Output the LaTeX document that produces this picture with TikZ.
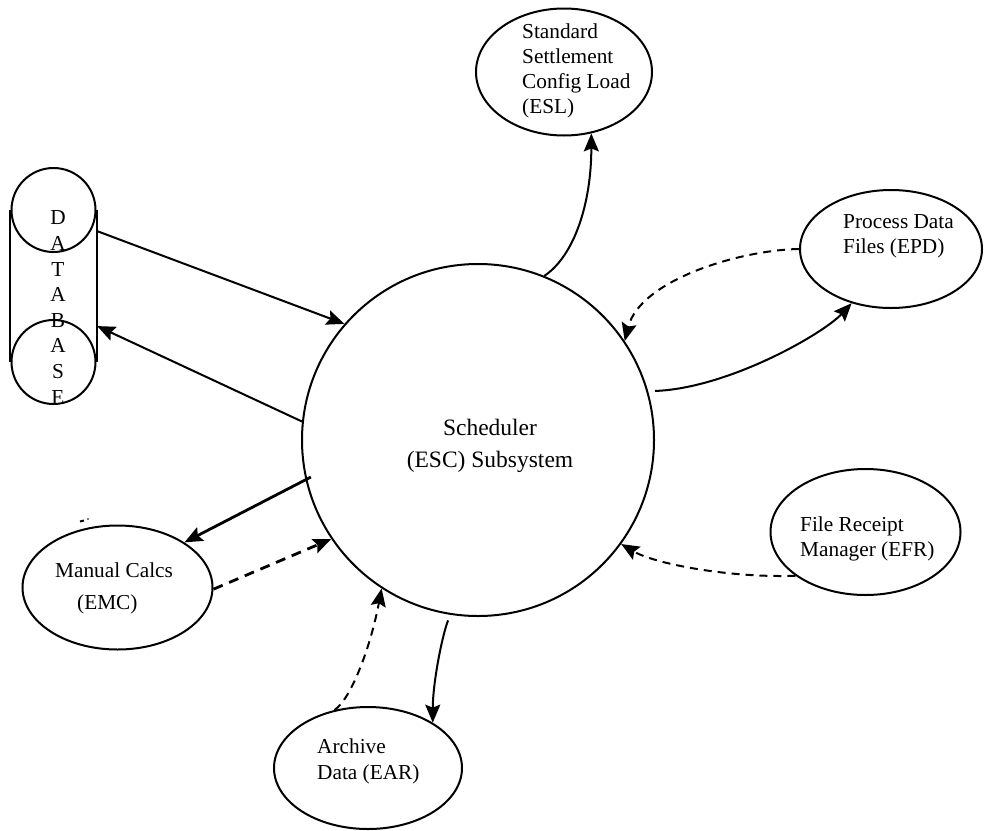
\documentclass[tikz,border=0pt]{standalone}
\usepackage{fontspec}
\setmainfont{Liberation Serif}
\usetikzlibrary{shapes.geometric,arrows.meta,calc}
\begin{document}
\begin{tikzpicture}[x=1pt,y=-1pt,
  outline/.style={draw=black,line width=2pt,inner sep=0pt},
  proc/.style={outline,ellipse},
  lbl/.style={inner sep=0pt,align=left,font=\fontsize{21.3}{25}\selectfont},
  flow/.style={-{Stealth[length=18pt,width=15pt,inset=3pt]},line width=2pt},
  dflow/.style={flow,dash pattern=on 8pt off 6pt},
  heavy/.style={line width=2.8pt},
]
\useasboundingbox (0,0) rectangle (984,830);

% central scheduler process
\node[outline,circle,minimum size=352pt] (esc) at (478,440) {};
\node[lbl,align=center,anchor=base,font=\fontsize{23.5}{32}\selectfont] (esctext) at (490,467)
  {Scheduler\\(ESC) Subsystem};

% surrounding processes (label anchors sit on the last baseline)
\node[proc,minimum width=176pt,minimum height=127pt] (esl) at (564,72) {};
\node[lbl,anchor=base west] (esltext) at (522,113)
  {Standard\\Settlement\\Config Load\\(ESL)};

\node[proc,minimum width=182pt,minimum height=118pt] (epd) at (891,249) {};
\node[lbl,anchor=base west] (epdtext) at (843,253) {Process Data\\Files (EPD)};

\node[proc,minimum width=190pt,minimum height=126pt] (efr) at (865.5,532) {};
\node[lbl,anchor=base west] (efrtext) at (800,556) {File Receipt\\Manager (EFR)};

\node[proc,minimum width=188pt,minimum height=122pt] (ear) at (368,768) {};
\node[lbl,anchor=base west,font=\fontsize{21.3}{26}\selectfont] (eartext) at (317,779)
  {Archive\\Data (EAR)};

\node[proc,minimum width=190pt,minimum height=124pt] (emc) at (117.5,587.5) {};
\node[lbl,anchor=base west,font=\fontsize{21.3}{32}\selectfont] (emctext) at (55,609)
  {Manual Calcs\\\hspace*{22pt}(EMC)};

% database store: two end circles joined by side lines
\node[inner sep=0pt,minimum width=87pt,minimum height=152pt] (db) at (53.5,286) {};
\node[outline,circle,minimum size=84pt] (dbtop) at (53.5,210) {};
\node[outline,circle,minimum size=84pt] (dbbot) at (53.5,362) {};
\draw[line width=2pt] (db.north west) -- (db.south west)
                      (db.north east) -- (db.south east);
\node[lbl,align=center,anchor=center,font=\fontsize{21.3}{25.6}\selectfont] (dbtext) at (58,307.5)
  {D\\A\\T\\A\\B\\A\\S\\E};

% data flows
\draw[flow] ($(db.north east)!0.14!(db.south east)$) -- (esc.139.2);
\draw[flow] (esc.174) -- ($(db.north east)!0.763!(db.south east)$);

\draw[flow] (esc.68.6) .. controls +(30,-20) and +(0,70) .. (esl.-66);

\draw[flow,shorten <=7pt] (esc.16.4) .. controls +(80,-3) and (823,334) .. (epd.234.7);
\draw[dflow] (epd.180) .. controls (740,250) and (640,280) .. (esc.34.7);

\draw[dflow] (efr.212) .. controls (730,578) and (655,564) .. (esc.-36.4);

\draw[flow,shorten <=6pt] (esc.-99.4) .. controls +(-8,20) and +(0,-40) .. (ear.35.2);
\draw[dflow] (ear.120) .. controls (350,700) and (370,650) .. (esc.-123);

\draw[flow,heavy,shorten <=-6pt] (esc.193) -- (emc.34.2);
\draw[dflow,heavy,dash pattern=on 10pt off 7pt] (emc.-1.5) -- (esc.214.5);

% small stray tick above the manual calcs bubble
\draw[line width=2pt] (80,521.5) -- (84,520.5);
\fill (88,519) circle (0.8pt);
\end{tikzpicture}
\end{document}
